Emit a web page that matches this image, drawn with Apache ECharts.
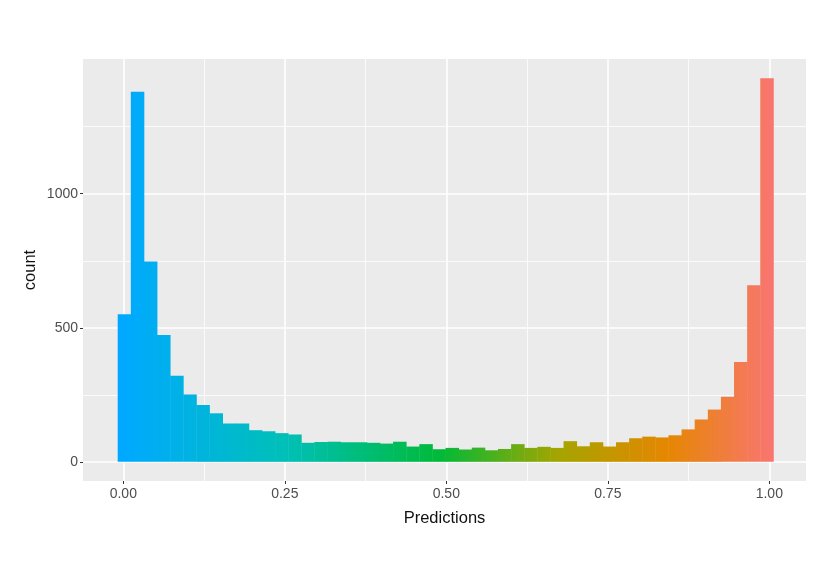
<!DOCTYPE html>
<html>
<head>
<meta charset="utf-8">
<script src="https://cdn.jsdelivr.net/npm/echarts@6/dist/echarts.min.js"></script>
<style>html,body{margin:0;padding:0;background:#fff}#c{width:830px;height:587px}</style>
</head>
<body>
<div id="c"></div>
<script>
// Histogram of predictions: 50 bins
const binStart = -0.0087;
const binWidth = 0.0203;
const counts = [
  550, 1380, 747, 473, 321, 251, 212, 181, 143, 143,
  118, 114, 107, 102, 71, 74, 75, 73, 73, 71,
  68, 75, 57, 66, 47, 52, 46, 53, 43, 48,
  66, 52, 56, 52, 77, 58, 73, 57, 73, 88,
  94, 91, 99, 121, 158, 195, 243, 372, 659, 1431
];
const xTicks = [0, 0.25, 0.5, 0.75, 1];
const xTickLabels = ['0.00', '0.25', '0.50', '0.75', '1.00'];
const xMinor = [0.125, 0.375, 0.625, 0.875];
const yTicks = [0, 500, 1000];
const yTickLabels = ['0', '500', '1000'];
const yMinor = [250, 750, 1250];
const xRange = [-0.0624, 1.0568];
const yRange = [-71.5, 1502.5];
const gradStops = [
  [0.00, '#00A9FF'],
  [0.25, '#00C0B8'],
  [0.49, '#00BA38'],
  [0.67, '#A3A500'],
  [0.84, '#E58700'],
  [1.00, '#F8766D']
];

const data = counts.map((c, i) => [binStart + i * binWidth, binStart + (i + 1) * binWidth, c]);

function pick(ticks, labels, v) {
  const i = ticks.findIndex(t => Math.abs(t - v) < 1e-9);
  return i >= 0 ? labels[i] : '';
}

const chart = echarts.init(document.getElementById('c'), null, {renderer: 'canvas'});
const FONT = 'Liberation Sans, Arial, sans-serif';
chart.setOption({
  backgroundColor: '#ffffff',
  animation: false,
  grid: {left: 83, right: 24, top: 59, bottom: 106, show: true, backgroundColor: '#EBEBEB', borderWidth: 0},
  xAxis: [{
    type: 'value', min: xRange[0], max: xRange[1], position: 'bottom',
    name: 'Predictions', nameLocation: 'middle', nameGap: 29, nameMoveOverlap: false,
    nameTextStyle: {fontFamily: FONT, fontSize: 16.5, color: '#111'},
    axisLine: {show: false, onZero: false},
    axisTick: {show: true, length: 3, lineStyle: {color: '#333', width: 1}, customValues: xTicks},
    axisLabel: {show: true, margin: 6, fontFamily: FONT, fontSize: 14, color: '#4D4D4D',
      customValues: xTicks, formatter: v => pick(xTicks, xTickLabels, v)},
    splitLine: {show: true, lineStyle: {color: '#ffffff', width: 1.6}}
  }, {
    type: 'value', min: xRange[0], max: xRange[1], position: 'top',
    axisLine: {show: false, onZero: false},
    axisTick: {show: false, customValues: xMinor},
    axisLabel: {show: false, customValues: xMinor},
    splitLine: {show: true, lineStyle: {color: '#ffffff', width: 0.8}}
  }],
  yAxis: [{
    type: 'value', min: yRange[0], max: yRange[1], position: 'left',
    name: 'count', nameLocation: 'middle', nameGap: 44, nameRotate: 90, nameMoveOverlap: false,
    nameTextStyle: {fontFamily: FONT, fontSize: 16.5, color: '#111'},
    axisLine: {show: false, onZero: false},
    axisTick: {show: true, length: 3, lineStyle: {color: '#333', width: 1}, customValues: yTicks},
    axisLabel: {show: true, margin: 5, fontFamily: FONT, fontSize: 14, color: '#4D4D4D',
      customValues: yTicks, formatter: v => pick(yTicks, yTickLabels, v)},
    splitLine: {show: true, lineStyle: {color: '#ffffff', width: 1.6}}
  }, {
    type: 'value', min: yRange[0], max: yRange[1], position: 'right',
    axisLine: {show: false, onZero: false},
    axisTick: {show: false, customValues: yMinor},
    axisLabel: {show: false, customValues: yMinor},
    splitLine: {show: true, lineStyle: {color: '#ffffff', width: 0.8}}
  }],
  series: [{
    type: 'custom',
    xAxisIndex: 0, yAxisIndex: 0,
    encode: {x: [0, 1], y: 2},
    data: data,
    renderItem: function (params, api) {
      const x0 = api.value(0), x1 = api.value(1), c = api.value(2);
      const pTop = api.coord([x0, c]);
      const pBot = api.coord([x1, 0]);
      const g0 = api.coord([gradStops[0][0], 0])[0];
      const g1 = api.coord([gradStops[gradStops.length - 1][0], 0])[0];
      const fill = new echarts.graphic.LinearGradient(g0, 0, g1, 0,
        gradStops.map(s => ({offset: s[0], color: s[1]})), true);
      return {
        type: 'rect',
        shape: {x: pTop[0], y: pTop[1], width: pBot[0] - pTop[0] + 0.4, height: pBot[1] - pTop[1]},
        style: {fill: fill}
      };
    }
  }]
});
</script>
</body>
</html>
